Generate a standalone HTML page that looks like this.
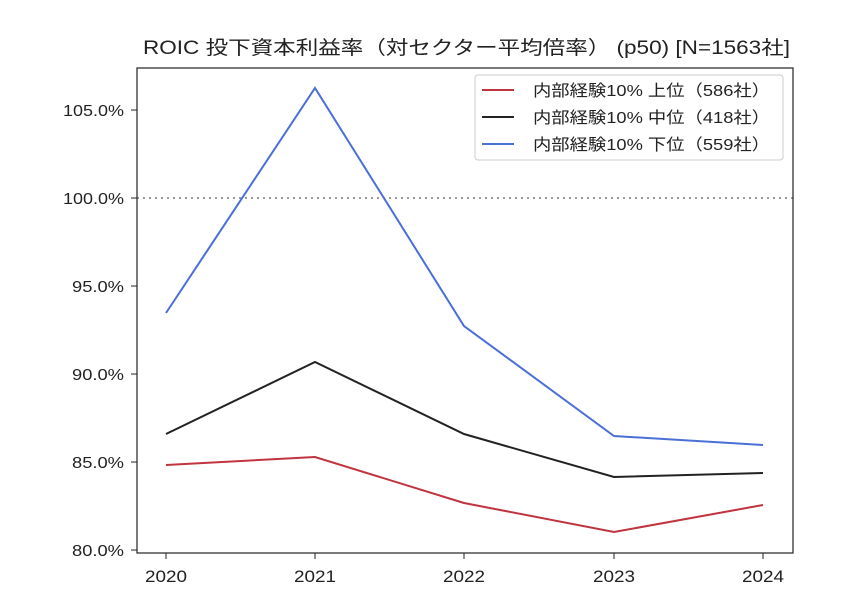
<!DOCTYPE html>
<html><head><meta charset="utf-8"><style>
body{margin:0;background:#fff;}
svg{display:block;font-family:"Liberation Sans","Noto Sans CJK JP",sans-serif;}
</style></head><body>
<svg width="855" height="607" viewBox="0 0 855 607">
<rect width="855" height="607" fill="#fff"/>
<text x="143" y="54" font-size="19" textLength="647" lengthAdjust="spacingAndGlyphs" fill="#222">ROIC 投下資本利益率（対セクター平均倍率） (p50) [N=1563社]</text>
<line x1="137" y1="198" x2="793" y2="198" stroke="#999" stroke-width="2" stroke-dasharray="2,4"/>
<g fill="none" stroke-width="2">
<polyline stroke="#4a6fd6" points="166,313 315,88 464,326 614,436 763,445"/>
<polyline stroke="#222" points="166,434 315,362 464,434 614,477 763,473"/>
<polyline stroke="#c0343f" points="166,465 315,457 464,503 614,532 763,505"/>
</g>
<rect x="137" y="68" width="656" height="485" fill="none" stroke="#222" stroke-width="1.2"/>
<g stroke="#222" stroke-width="1">
<line x1="131" y1="550" x2="137" y2="550"/><line x1="131" y1="462" x2="137" y2="462"/><line x1="131" y1="374" x2="137" y2="374"/><line x1="131" y1="286" x2="137" y2="286"/><line x1="131" y1="198" x2="137" y2="198"/><line x1="131" y1="110" x2="137" y2="110"/>
<line x1="166" y1="553" x2="166" y2="559"/><line x1="315" y1="553" x2="315" y2="559"/><line x1="464" y1="553" x2="464" y2="559"/><line x1="614" y1="553" x2="614" y2="559"/><line x1="763" y1="553" x2="763" y2="559"/>
</g>
<g font-size="16" fill="#222" text-anchor="end">
<text x="124" y="556" textLength="52" lengthAdjust="spacingAndGlyphs">80.0%</text><text x="124" y="468" textLength="52" lengthAdjust="spacingAndGlyphs">85.0%</text><text x="124" y="380" textLength="52" lengthAdjust="spacingAndGlyphs">90.0%</text><text x="124" y="292" textLength="52" lengthAdjust="spacingAndGlyphs">95.0%</text><text x="124" y="204" textLength="61" lengthAdjust="spacingAndGlyphs">100.0%</text><text x="124" y="116" textLength="61" lengthAdjust="spacingAndGlyphs">105.0%</text>
</g>
<g font-size="17" fill="#222">
<text x="145" y="582" textLength="42" lengthAdjust="spacingAndGlyphs">2020</text><text x="294" y="582" textLength="42" lengthAdjust="spacingAndGlyphs">2021</text><text x="443" y="582" textLength="42" lengthAdjust="spacingAndGlyphs">2022</text><text x="593" y="582" textLength="42" lengthAdjust="spacingAndGlyphs">2023</text><text x="742" y="582" textLength="42" lengthAdjust="spacingAndGlyphs">2024</text>
</g>
<rect x="475" y="75" width="308" height="85" rx="3" fill="#fff" stroke="#ccc"/>
<g stroke-width="2"><line x1="482" y1="90" x2="514" y2="90" stroke="#c0343f"/><line x1="482" y1="117" x2="514" y2="117" stroke="#222"/><line x1="482" y1="144" x2="514" y2="144" stroke="#4a6fd6"/></g>
<g font-size="16" fill="#222">
<text x="533" y="96" textLength="237" lengthAdjust="spacingAndGlyphs">内部経験10% 上位（586社）</text>
<text x="533" y="123" textLength="237" lengthAdjust="spacingAndGlyphs">内部経験10% 中位（418社）</text>
<text x="533" y="150" textLength="237" lengthAdjust="spacingAndGlyphs">内部経験10% 下位（559社）</text>
</g>
</svg>
</body></html>
